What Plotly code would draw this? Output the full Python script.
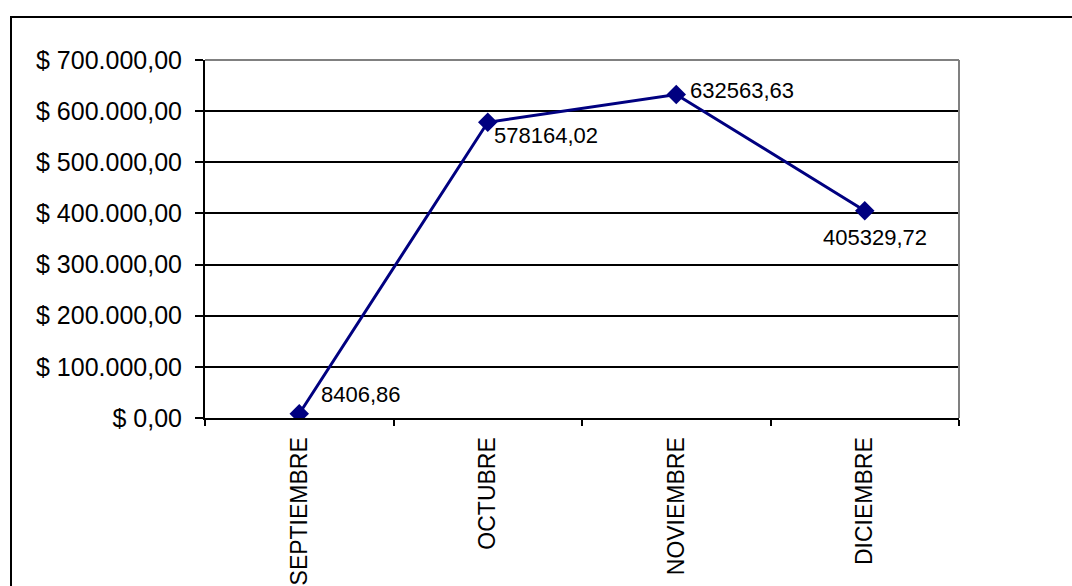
import plotly.graph_objects as go

# Monthly totals
months = ["SEPTIEMBRE", "OCTUBRE", "NOVIEMBRE", "DICIEMBRE"]
totals = [8406.86, 578164.02, 632563.63, 405329.72]
y_ticks = [0, 100000, 200000, 300000, 400000, 500000, 600000, 700000]


def money(v):
    """Format as '$ 700.000,00'."""
    s = f"{v:,.2f}".replace(",", "_").replace(".", ",").replace("_", ".")
    return "$ " + s


# Pixel offsets of each value label relative to its point
label_dx = [20, 4, 12, 10]
label_dy = [19, -13, 4, -27]
label_anchor = ["left", "left", "left", "center"]

NAVY = "#000080"
FONT = "Arial, Liberation Sans, sans-serif"

fig = go.Figure()
fig.add_trace(go.Scatter(
    x=months,
    y=totals,
    mode="lines+markers",
    line=dict(color=NAVY, width=3),
    marker=dict(symbol="diamond", size=15, color=NAVY),
    hoverinfo="skip",
    showlegend=False,
))

for m, v, dx, dy, anc in zip(months, totals, label_dx, label_dy, label_anchor):
    fig.add_annotation(
        x=m, y=v, text=f"{v:.2f}".replace(".", ","),
        showarrow=False, xanchor=anc, yanchor="middle",
        xshift=dx, yshift=dy,
        font=dict(family=FONT, size=22, color="black"),
    )

# Plot-area frame: grey top and right edges
fig.add_shape(type="line", xref="x domain", yref="y domain",
              x0=0, x1=1, y0=1, y1=1, line=dict(color="#808080", width=2))
fig.add_shape(type="line", xref="x domain", yref="y domain",
              x0=1, x1=1, y0=0, y1=1, line=dict(color="#808080", width=2))

# Outer chart border
fig.add_shape(type="rect", xref="paper", yref="paper",
              x0=(11 - 205) / 754, x1=(1090 - 205) / 754,
              y0=(418 - 610) / 358, y1=(418 - 17) / 358,
              line=dict(color="black", width=2), fillcolor="rgba(0,0,0,0)",
              layer="below")

fig.update_layout(
    width=1072, height=586,
    margin=dict(l=205, r=113, t=60, b=168, autoexpand=False),
    paper_bgcolor="white", plot_bgcolor="white",
    font=dict(family=FONT, size=23, color="black"),
    xaxis=dict(
        type="category",
        range=[-0.5, 3.5],
        automargin=False,
        tickson="boundaries",
        ticks="outside", ticklen=6, tickwidth=2, tickcolor="black",
        tickangle=-90,
        ticklabelstandoff=8,
        showline=True, linecolor="black", linewidth=2,
        showgrid=False, zeroline=False,
        tickfont=dict(family=FONT, size=23, color="black"),
        fixedrange=True,
    ),
    yaxis=dict(
        range=[0, 700000],
        automargin=False,
        tickvals=y_ticks,
        ticktext=[money(t) for t in y_ticks],
        ticks="outside", ticklen=8, tickwidth=2, tickcolor="black",
        ticklabelstandoff=8,
        showline=True, linecolor="black", linewidth=2,
        showgrid=True, gridcolor="black", gridwidth=1.5,
        zeroline=False,
        tickfont=dict(family=FONT, size=25, color="black"),
        fixedrange=True,
    ),
)

fig.write_html("out.html")
